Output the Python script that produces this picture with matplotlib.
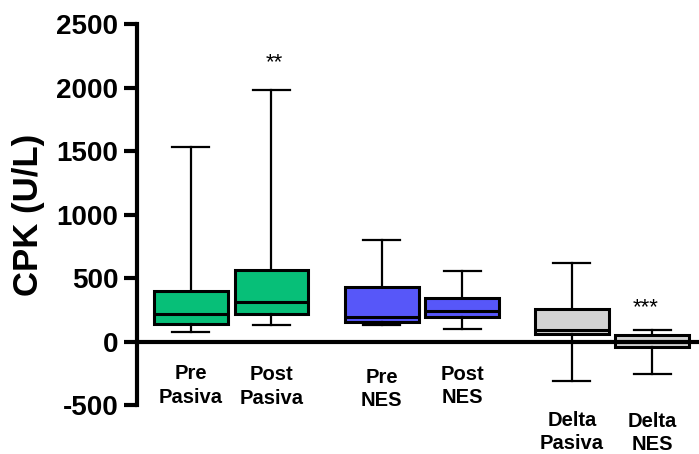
import numpy as np
import matplotlib
matplotlib.use("Agg")
import matplotlib.pyplot as plt

plt.rcParams['font.family'] = ['Liberation Sans', 'DejaVu Sans']
plt.rcParams['axes.unicode_minus'] = False

# box statistics (U/L)
groups = ['Pre\nPasiva', 'Post\nPasiva', 'Pre\nNES', 'Post\nNES', 'Delta\nPasiva', 'Delta\nNES']
whisker_low = [76, 129, 134, 105, -304, -249]
q1 = [142, 218, 153, 197, 58, -39]
median = [223, 310, 197, 244, 97, 2]
q3 = [399, 567, 428, 344, 257, 53]
whisker_high = [1535, 1984, 801, 557, 622, 92]
colors = ['#07BF78', '#07BF78', '#5757F9', '#5757F9', '#D3D3D3', '#D3D3D3']
stars = {1: '**', 5: '***'}

positions = [0, 1, 2.37, 3.37, 4.73, 5.73]
label_y = [-345, -353, -372, -349, -711, -715]


def build_stats():
    stats = []
    for i in range(len(groups)):
        stats.append(dict(whislo=whisker_low[i], q1=q1[i], med=median[i],
                          q3=q3[i], whishi=whisker_high[i], fliers=[]))
    return stats


fig = plt.figure(figsize=(6.99, 4.54), dpi=100)
ax = fig.add_axes([0.196, 0.107, 0.804, 0.840])

bp = ax.bxp(build_stats(), positions=positions, widths=0.915, patch_artist=True,
            showfliers=False, capwidths=0.46,
            boxprops=dict(linewidth=2.2, edgecolor='black'),
            medianprops=dict(linewidth=2.2, color='black'),
            whiskerprops=dict(linewidth=1.6, color='black'),
            capprops=dict(linewidth=1.6, color='black'))
for patch, c in zip(bp['boxes'], colors):
    patch.set_facecolor(c)

# zero line
ax.axhline(0, color='black', linewidth=3, zorder=5)

# significance marks
ax.text(positions[1] + 0.03, 2200, stars[1], ha='center', va='center', fontsize=16)
ax.text(positions[5] - 0.08, 265, stars[5], ha='center', va='center', fontsize=16)

# group labels under the zero line
for x, y, lab in zip(positions, label_y, groups):
    ax.text(x, y, lab, ha='center', va='center', fontsize=14.5, fontweight='bold',
            linespacing=1.3, clip_on=False)

ax.set_xlim(-0.67, 6.31)
ax.set_ylim(-500, 2500)
ax.set_yticks([-500, 0, 500, 1000, 1500, 2000, 2500])
ax.set_xticks([])
for side in ['top', 'right', 'bottom']:
    ax.spines[side].set_visible(False)
ax.spines['left'].set_linewidth(3)
ax.tick_params(axis='y', length=9.5, width=3, pad=4, labelsize=20)
for t in ax.get_yticklabels():
    t.set_fontweight('bold')
ax.set_ylabel('CPK (U/L)', fontsize=25, fontweight='bold', labelpad=8)

fig.savefig('out.png', dpi=100)
